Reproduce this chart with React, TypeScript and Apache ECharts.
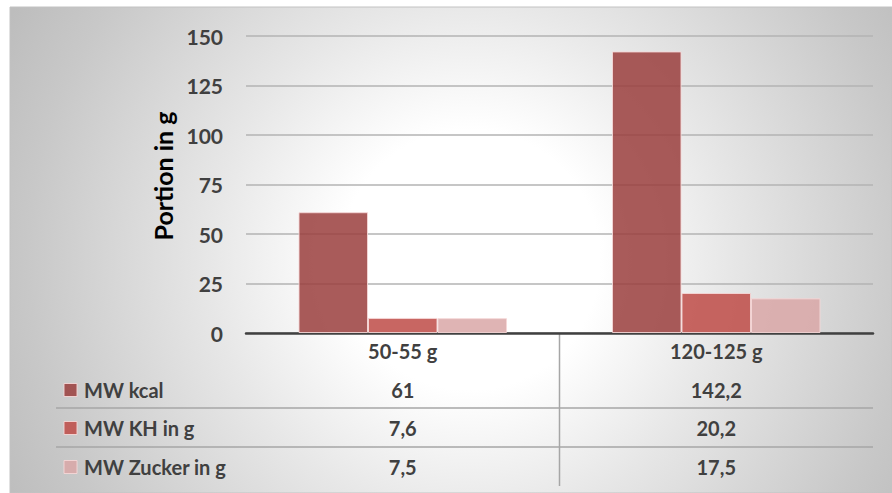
import React, { useEffect, useRef } from "react";
import * as echarts from "echarts";

// Portion sizes (category axis) and the three averaged measures per portion
const categories = ["50-55 g", "120-125 g"];
const seriesNames = ["MW kcal", "MW KH in g", "MW Zucker in g"];
const kcalValues = [61, 142.2];
const khValues = [7.6, 20.2];
const zuckerValues = [7.5, 17.5];
const yMin = 0;
const yMax = 150;
const yInterval = 25;
const axisTitle = "Portion in g";

const seriesColors = [
  "rgba(154,62,61,0.85)",
  "rgba(190,75,71,0.85)",
  "rgba(217,167,167,0.85)",
];

const FONT = "Lato, 'Open Sans', sans-serif";
const TEXT = "#404040";

const fmt = (v: number) => String(v).replace(".", ",");

export default function App() {
  const ref = useRef<HTMLDivElement>(null);

  useEffect(() => {
    if (!ref.current) return;
    const chart = echarts.init(ref.current, undefined, { renderer: "svg" });
    const allValues = [kcalValues, khValues, zuckerValues];

    chart.setOption({
      animation: false,
      textStyle: { fontFamily: FONT },
      grid: { left: 246, right: 19, top: 36, bottom: 160, containLabel: false },
      xAxis: {
        type: "category",
        data: categories,
        axisLine: { lineStyle: { color: "#404040", width: 2.5 } },
        axisTick: { show: false },
        axisLabel: {
          margin: 8,
          fontSize: 20,
          fontWeight: "bold",
          color: TEXT,
          fontFamily: FONT,
        },
      },
      yAxis: {
        type: "value",
        min: yMin,
        max: yMax,
        interval: yInterval,
        axisLine: { show: false },
        axisTick: { show: false },
        splitLine: { lineStyle: { color: "#b3b3b3", width: 1.5 } },
        axisLabel: {
          margin: 23,
          fontSize: 21,
          fontWeight: "bold",
          color: TEXT,
          fontFamily: FONT,
        },
      },
      series: allValues.map((vals, i) => ({
        name: seriesNames[i],
        type: "bar",
        data: vals,
        barGap: "0%",
        barCategoryGap: "33.5%",
        itemStyle: {
          color: seriesColors[i],
          borderColor: "rgba(245,215,215,0.9)",
          borderWidth: 1,
        },
      })),
    });

    // Data table under the plot: column centres follow the category axis
    const cx = categories.map((_, i) =>
      chart.convertToPixel({ xAxisIndex: 0 }, i) as number
    );
    const divider = (cx[0] + cx[1]) / 2;
    const rowY = [390, 428, 467];
    const ruleY = [408, 447];
    const tableRight = 873;

    const graphics: any[] = [
      {
        type: "rect",
        z: -10,
        silent: true,
        shape: { x: 10, y: 7, width: 882, height: 486 },
        style: {
          fill: {
            type: "radial",
            x: 470,
            y: 260,
            r: 520,
            global: true,
            colorStops: [
              { offset: 0, color: "#ffffff" },
              { offset: 0.25, color: "#ffffff" },
              { offset: 0.5, color: "#e7e7e7" },
              { offset: 0.85, color: "#c8c8c8" },
              { offset: 1, color: "#bdbdbd" },
            ],
          },
          stroke: "#c2c2c2",
          lineWidth: 1,
        },
      },
      {
        type: "text",
        x: 163,
        y: 176,
        rotation: Math.PI / 2,
        style: {
          text: axisTitle,
          fontSize: 25,
          fontWeight: "bold",
          fontFamily: FONT,
          fill: "#000000",
          align: "center",
          verticalAlign: "middle",
        },
      },
      {
        type: "line",
        shape: { x1: divider, y1: 334, x2: divider, y2: 486 },
        style: { stroke: "#a6a6a6", lineWidth: 1.5 },
      },
    ];

    ruleY.forEach((y) => {
      graphics.push({
        type: "line",
        shape: { x1: 56, y1: y, x2: tableRight, y2: y },
        style: { stroke: "#a6a6a6", lineWidth: 1.5 },
      });
    });

    seriesNames.forEach((name, r) => {
      graphics.push({
        type: "rect",
        shape: { x: 64, y: rowY[r] - 6.5, width: 13, height: 13 },
        style: {
          fill: seriesColors[r],
          stroke: "rgba(245,215,215,0.9)",
          lineWidth: 1,
        },
      });
      graphics.push({
        type: "text",
        x: 84,
        y: rowY[r],
        style: {
          text: name,
          fontSize: 20,
          fontWeight: "bold",
          fontFamily: FONT,
          fill: TEXT,
          align: "left",
          verticalAlign: "middle",
        },
      });
      allValues[r].forEach((v, c) => {
        graphics.push({
          type: "text",
          x: cx[c],
          y: rowY[r],
          style: {
            text: fmt(v),
            fontSize: 20,
            fontWeight: "bold",
            fontFamily: FONT,
            fill: TEXT,
            align: "center",
            verticalAlign: "middle",
          },
        });
      });
    });

    chart.setOption({ graphic: graphics });

    return () => chart.dispose();
  }, []);

  return (
    <div
      ref={ref}
      style={{ position: "absolute", left: 0, top: 0, width: 892, height: 493 }}
    />
  );
}
